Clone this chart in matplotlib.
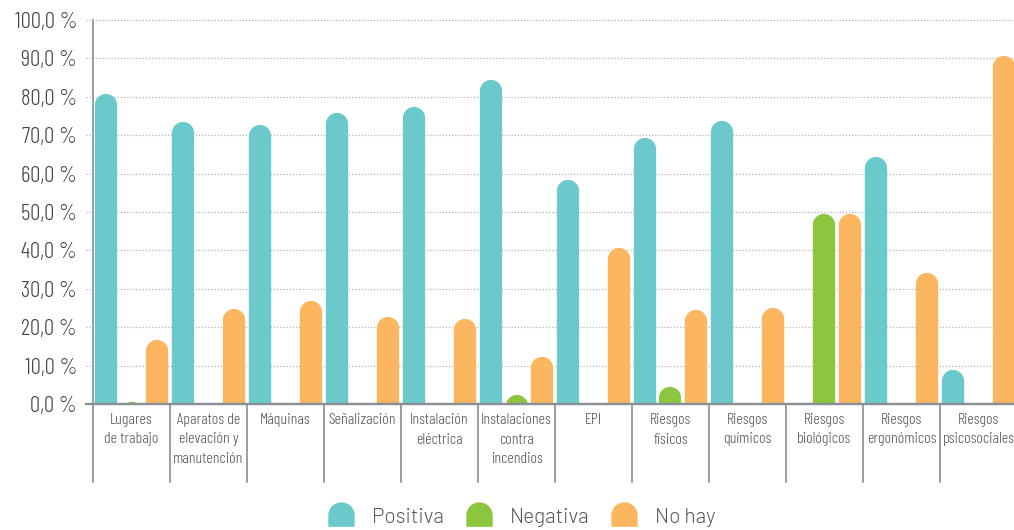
import matplotlib
matplotlib.use("Agg")
import matplotlib.pyplot as plt
import numpy as np
from matplotlib.path import Path
from matplotlib.lines import Line2D
from matplotlib.transforms import blended_transform_factory

categories = ["Lugares\nde trabajo", "Aparatos de\nelevación y\nmanutención", "Máquinas",
              "Señalización", "Instalación\neléctrica", "Instalaciones\ncontra\nincendios",
              "EPI", "Riesgos\nfísicos", "Riesgos\nquímicos", "Riesgos\nbiológicos",
              "Riesgos\nergonómicos", "Riesgos\npsicosociales"]
positiva = [80.8, 73.4, 72.7, 75.8, 77.3, 84.4, 58.3, 69.3, 73.7, 0.0, 64.3, 8.9]
negativa = [0.5, 0.0, 0.0, 0.0, 0.0, 2.5, 0.0, 4.4, 0.0, 49.5, 0.0, 0.0]
no_hay = [16.7, 24.8, 26.8, 22.6, 22.1, 12.2, 40.6, 24.5, 25.0, 49.5, 34.1, 90.6]
series_names = ["Positiva", "Negativa", "No hay"]
colors = ["#6CC9CB", "#8CC63F", "#FDB660"]
yticks = [0, 10, 20, 30, 40, 50, 60, 70, 80, 90, 100]

COND = ["Barlow Condensed", "DejaVu Sans"]
REG = ["Barlow", "DejaVu Sans"]

DPI = 100
fig = plt.figure(figsize=(10.14, 5.30), dpi=DPI)
W, H = 1014, 530
left_px, right_px, bottom_px, top_px = 93, 1017, 404, 20
ax = fig.add_axes([left_px / W, (H - bottom_px) / H, (right_px - left_px) / W, (bottom_px - top_px) / H])
n = len(categories)
ax.set_xlim(0, n)
ax.set_ylim(0, 100)

axis_col = "#8a8f93"
for s in ["top", "right"]:
    ax.spines[s].set_visible(False)
ax.spines["left"].set_color(axis_col)
ax.spines["bottom"].set_color(axis_col)
ax.spines["left"].set_linewidth(1.2)
ax.spines["bottom"].set_linewidth(1.6)

# gridlines
for t in yticks[1:]:
    ax.axhline(t, xmin=-7 / 924, xmax=1, color="#b5b5b5", lw=0.9, ls=(0, (1, 1.5)), clip_on=False, zorder=0)
ax.axhline(0, xmin=-7 / 924, xmax=1, color=axis_col, lw=1.6, clip_on=False, zorder=3)

ax.set_yticks(yticks)
ax.set_yticklabels([f"{t},0 %" for t in yticks])
ax.tick_params(axis="y", length=0, pad=11.5, labelcolor="#444444")
for lab in ax.get_yticklabels():
    lab.set_family(COND)
    lab.set_fontsize(16.5)
    lab.set_fontweight(300)
ax.set_xticks([])

# category separators below axis
trans = blended_transform_factory(ax.transData, ax.transAxes)
sep_len = 78 / (bottom_px - top_px)
for k in range(n):
    ax.plot([k, k], [0, -sep_len], color=axis_col, lw=1.2, transform=trans, clip_on=False)
for k, c in enumerate(categories):
    ax.text(k + 0.5, -9 / (bottom_px - top_px), c, transform=trans, ha="center", va="top",
            fontsize=11.5, color="#555555", linespacing=1.5, family=COND, fontweight=300)

# rounded-top bars drawn as thick lines with round caps
bw = 0.29
offsets = [-0.325, 0.0, 0.325]
fig.canvas.draw()
p0 = ax.transData.transform((0, 0))
p1 = ax.transData.transform((bw, 1))
w_px = p1[0] - p0[0]
px_per_unit = p1[1] - p0[1]
r_data = (w_px / 2) / px_per_unit
lw_pt = w_px * 72 / DPI
x = np.arange(n) + 0.5
for vals, off, col in zip([positiva, negativa, no_hay], offsets, colors):
    for xi, v in zip(x, vals):
        if v <= 0:
            continue
        ax.plot([xi + off, xi + off], [-2 * r_data - 5, v - r_data], color=col, lw=lw_pt,
                solid_capstyle="round", zorder=2)

# legend with dome markers
arc = Path.arc(0, 180)
verts = list(arc.vertices) + [(-1, -0.85), (1, -0.85), (1, 0), (1, 0)]
codes = list(arc.codes) + [Path.LINETO, Path.LINETO, Path.LINETO, Path.CLOSEPOLY]
dome = Path(verts, codes)
handles = [Line2D([], [], ls="none", marker=dome, markersize=18, markerfacecolor=c,
                  markeredgecolor=c) for c in colors]
leg = fig.legend(handles, series_names, loc="center", bbox_to_anchor=(0.515, 0.024), ncol=3,
                 frameon=False, handlelength=1.2, handletextpad=0.9, columnspacing=1.05,
                 prop={"family": REG, "size": 15, "weight": 300})
for t in leg.get_texts():
    t.set_color("#555555")

fig.savefig("out.png", dpi=DPI)
